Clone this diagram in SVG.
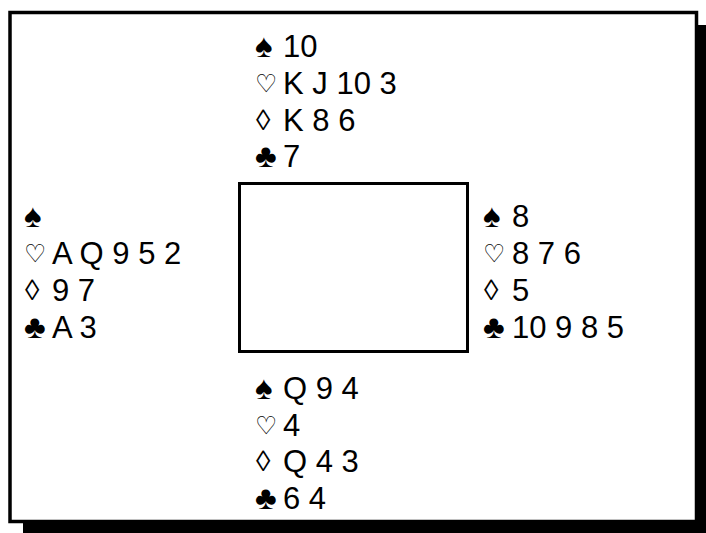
<svg xmlns="http://www.w3.org/2000/svg" width="706" height="533" viewBox="0 0 706 533">
<style>
.t{font-family:"Liberation Sans","DejaVu Sans",sans-serif;font-size:31px;fill:#000}
.b{font-size:33px}
.h{font-size:25px;font-family:"DejaVu Sans",sans-serif}
.d{font-size:29px}
.frame{fill:#fff;stroke:#000;stroke-width:3.5}
.table{fill:#fff;stroke:#000;stroke-width:3}
</style>
<rect x="23" y="25" width="690" height="515" fill="#000"/>
<rect class="frame" x="10" y="12.5" width="686.5" height="509"/>
<g id="table"><rect class="table" x="239.5" y="183.5" width="228" height="168"/></g>
<g id="north" class="t">
<text x="255" y="57"><tspan class="b">♠</tspan><tspan x="283">10</tspan></text>
<text x="255" y="92"><tspan class="h">♡</tspan><tspan x="283" y="94">K J 10 3</tspan></text>
<text x="256" y="130"><tspan class="d">◊</tspan><tspan x="283" y="131">K 8 6</tspan></text>
<text x="255" y="167"><tspan class="b">♣</tspan><tspan x="283">7</tspan></text>
</g>
<g id="west" class="t">
<text x="24" y="227"><tspan class="b">♠</tspan></text>
<text x="24" y="262"><tspan class="h">♡</tspan><tspan x="52" y="264">A Q 9 5 2</tspan></text>
<text x="25" y="300"><tspan class="d">◊</tspan><tspan x="52" y="301">9 7</tspan></text>
<text x="24" y="338"><tspan class="b">♣</tspan><tspan x="52">A 3</tspan></text>
</g>
<g id="east" class="t">
<text x="483" y="227"><tspan class="b">♠</tspan><tspan x="512">8</tspan></text>
<text x="483" y="262"><tspan class="h">♡</tspan><tspan x="512" y="264">8 7 6</tspan></text>
<text x="484" y="300"><tspan class="d">◊</tspan><tspan x="512" y="301">5</tspan></text>
<text x="483" y="338"><tspan class="b">♣</tspan><tspan x="512">10 9 8 5</tspan></text>
</g>
<g id="south" class="t">
<text x="255" y="399"><tspan class="b">♠</tspan><tspan x="283">Q 9 4</tspan></text>
<text x="255" y="434"><tspan class="h">♡</tspan><tspan x="283" y="436">4</tspan></text>
<text x="256" y="471"><tspan class="d">◊</tspan><tspan x="283" y="472">Q 4 3</tspan></text>
<text x="255" y="509"><tspan class="b">♣</tspan><tspan x="283">6 4</tspan></text>
</g>
</svg>
